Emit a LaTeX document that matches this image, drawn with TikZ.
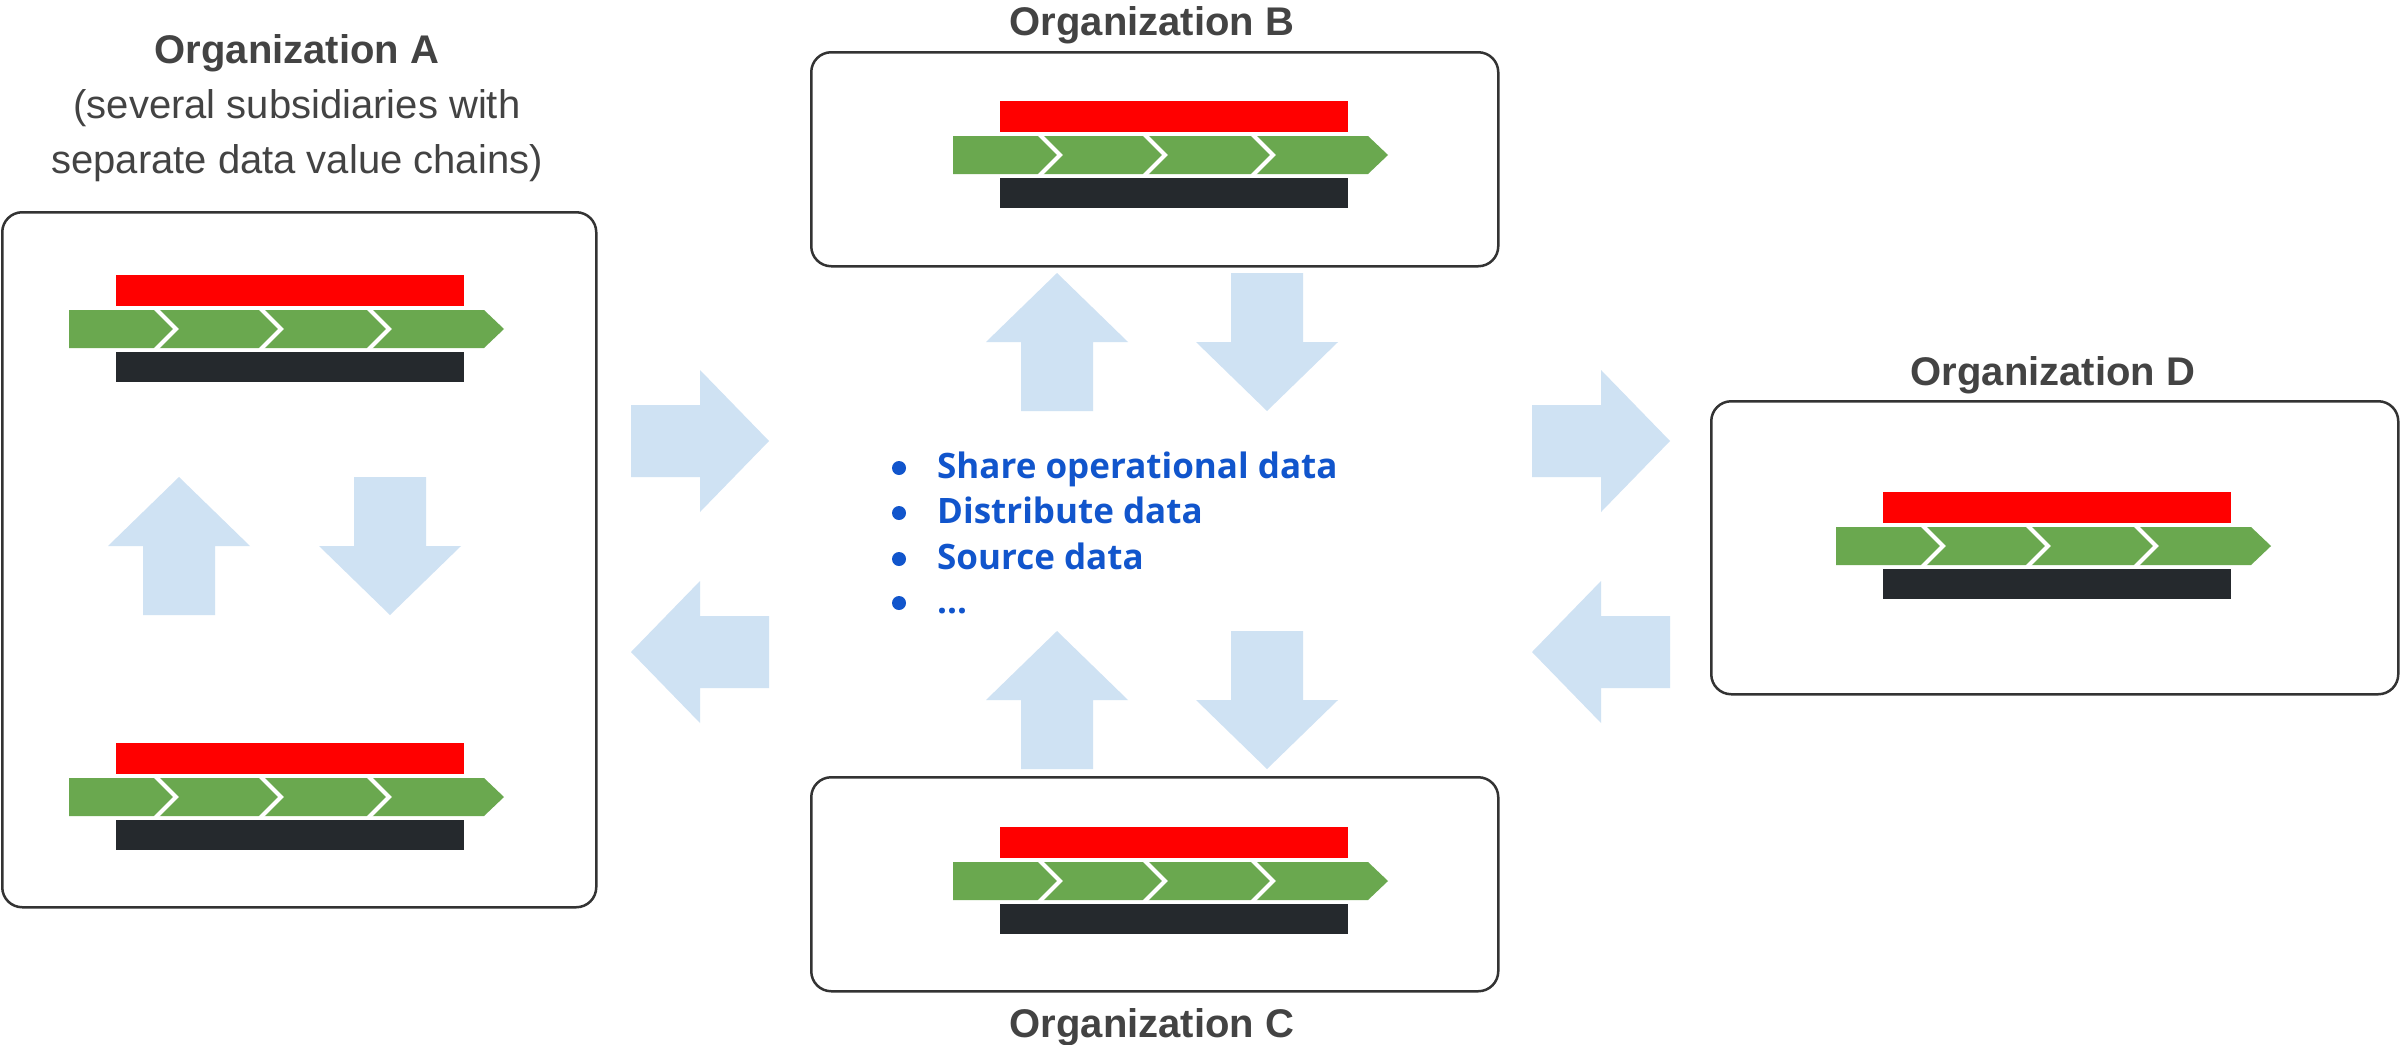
\documentclass[tikz,border=0pt]{standalone}
\usepackage{fontspec}
\setmainfont{Liberation Sans}
\newfontfamily\listfont{Open Sans}
\definecolor{boxline}{HTML}{333333}
\definecolor{titlegray}{HTML}{434343}
\definecolor{arrowblue}{HTML}{CFE2F3}
\definecolor{listblue}{HTML}{1155CC}
\definecolor{chainred}{HTML}{FF0000}
\definecolor{chaingreen}{HTML}{6AA84F}
\definecolor{chainblack}{HTML}{25292D}
\tikzset{
  orgbox/.style={draw=boxline, line width=2.5pt, rounded corners=20pt, fill=white, inner sep=0pt, anchor=north west},
  orgtitle/.style={text=titlegray, font=\fontsize{40}{48}\selectfont\bfseries, anchor=base, inner sep=0pt},
  orgsub/.style={text=titlegray, font=\fontsize{40}{48}\selectfont, anchor=base, inner sep=0pt},
  listitem/.style={text=listblue, font=\listfont\bfseries\fontsize{35}{42}\selectfont, anchor=base west, inner sep=0pt},
  bulletdot/.style={circle, fill=listblue, minimum size=14pt, inner sep=0pt},
  valuechain/.pic={
    \fill[chainred] (0,0) rectangle (348,31);
    \fill[chaingreen] (-47,35) -- (368,35) -- (388,54) -- (368,73) -- (-47,73) -- cycle;
    \foreach \s in {37,142,250}{
      \draw[white, line width=4pt, line join=miter] (\s+2,33) -- (\s+23,54) -- (\s+2,75);
    }
    \fill[chainblack] (0,77) rectangle (348,107);
  },
  arrR/.pic={\fill[arrowblue] (-69,-36) -- (0,-36) -- (0,-71) -- (69,0) -- (0,71) -- (0,36) -- (-69,36) -- cycle;},
  arrL/.pic={\fill[arrowblue] (69,-36) -- (0,-36) -- (0,-71) -- (-69,0) -- (0,71) -- (0,36) -- (69,36) -- cycle;},
  arrU/.pic={\fill[arrowblue] (-36,69) -- (-36,0) -- (-71,0) -- (0,-69) -- (71,0) -- (36,0) -- (36,69) -- cycle;},
  arrD/.pic={\fill[arrowblue] (-36,-69) -- (-36,0) -- (-71,0) -- (0,69) -- (71,0) -- (36,0) -- (36,-69) -- cycle;}
}
\begin{document}
\begin{tikzpicture}[x=1pt,y=-1pt]
\useasboundingbox (0,0) rectangle (2400,1044);
\fill[white] (0,0) rectangle (2400,1044);

% boxes
\node[orgbox, minimum width=594pt, minimum height=695pt] (boxA) at (1,211) {};
\node[orgbox, minimum width=687pt, minimum height=214pt] (boxB) at (810,51) {};
\node[orgbox, minimum width=687pt, minimum height=214pt] (boxC) at (810,776) {};
\node[orgbox, minimum width=687pt, minimum height=293pt] (boxD) at (1710,400) {};

% titles
\node[orgtitle] (titleA) at (297,63) {Organization A};
\node[orgsub] (subA1) at (297,118) {(several subsidiaries with};
\node[orgsub] (subA2) at (297,173) {separate data value chains)};
\node[orgtitle] (titleB) at (1152,35) {Organization B};
\node[orgtitle] (titleC) at (1152,1037) {Organization C};
\node[orgtitle] (titleD) at (2053,385) {Organization D};

% value chains
\pic at (116,275) {valuechain};
\pic at (116,743) {valuechain};
\pic at (1000,101) {valuechain};
\pic at (1000,827) {valuechain};
\pic at (1883,492) {valuechain};

% block arrows
\pic at (179,546) {arrU};
\pic at (390,546) {arrD};
\pic at (700,441) {arrR};
\pic at (700,652) {arrL};
\pic at (1601,441) {arrR};
\pic at (1601,652) {arrL};
\pic at (1057,342) {arrU};
\pic at (1267,342) {arrD};
\pic at (1057,700) {arrU};
\pic at (1267,700) {arrD};

% list
\node[bulletdot] (d1) at (899,468) {};
\node[bulletdot] (d2) at (899,513) {};
\node[bulletdot] (d3) at (899,559) {};
\node[bulletdot] (d4) at (899,603) {};
\node[listitem] (l1) at (937,478) {Share operational data};
\node[listitem] (l2) at (937,523) {Distribute data};
\node[listitem] (l3) at (937,569) {Source data};
\node[listitem] (l4) at (937,613) {...};
\end{tikzpicture}
\end{document}
